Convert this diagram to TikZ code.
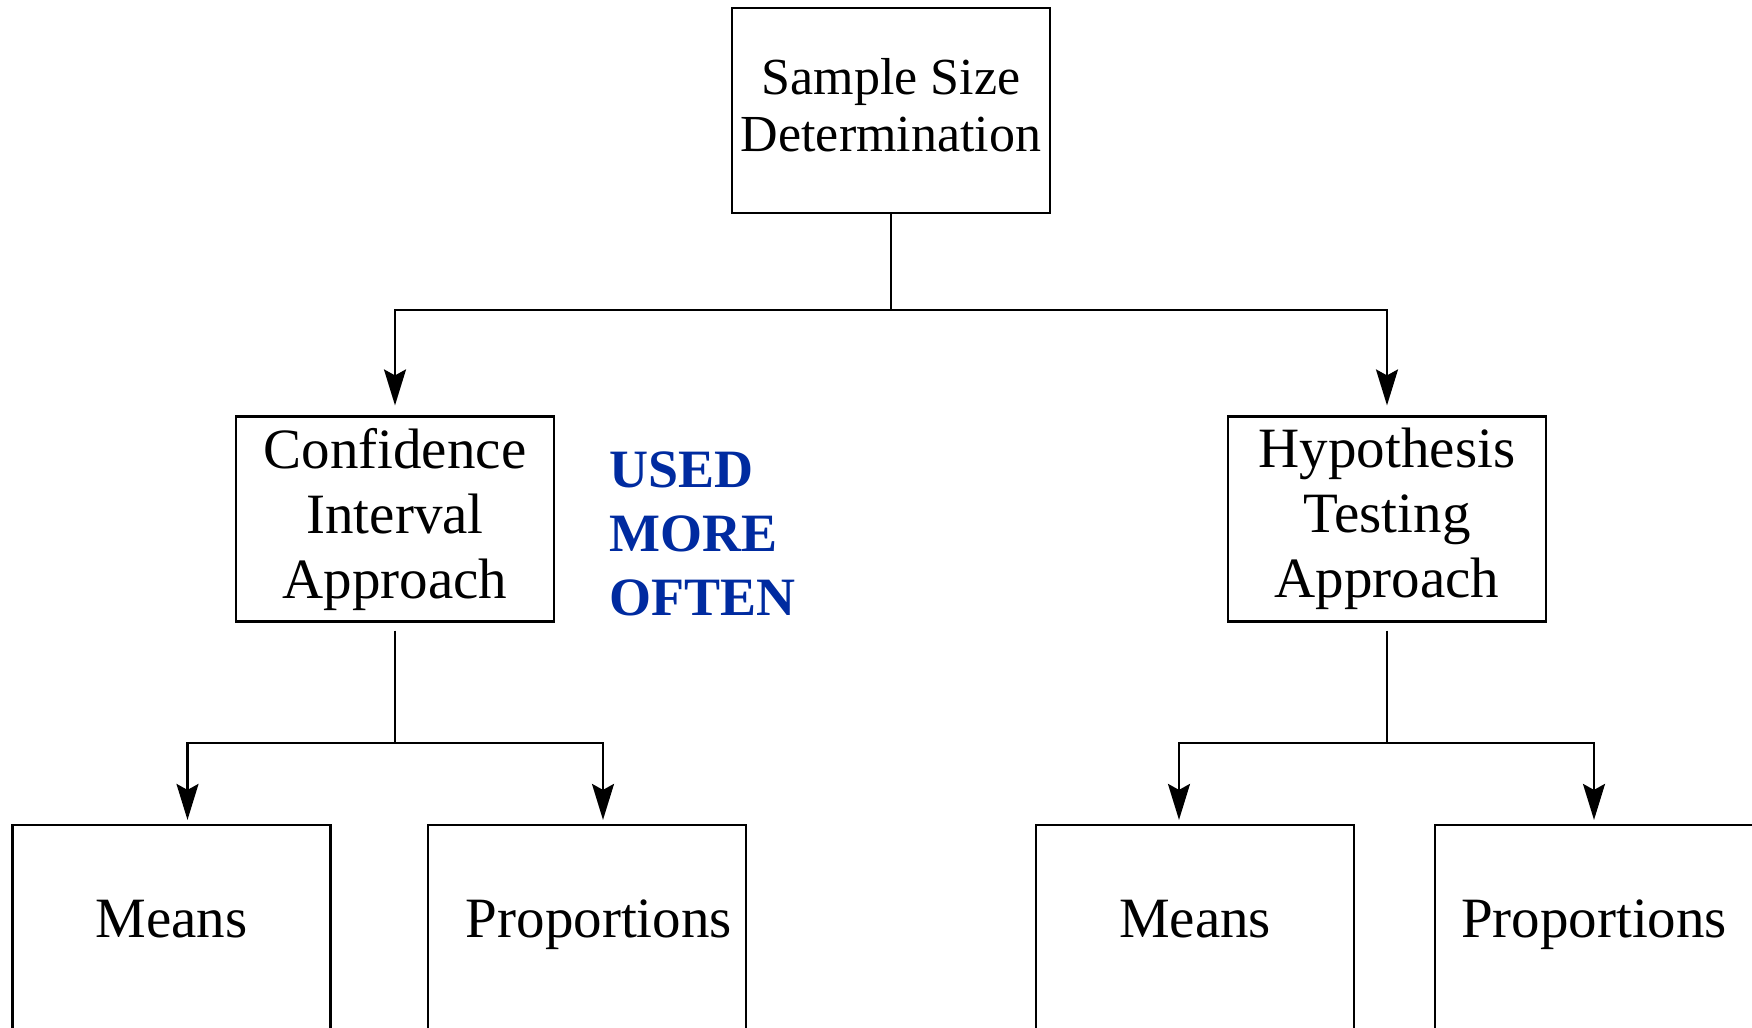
\documentclass[tikz,border=0pt]{standalone}
\usepackage{fontspec}
\setmainfont{Liberation Serif}
\usetikzlibrary{arrows.meta}
\definecolor{useblue}{RGB}{0,43,160}
\begin{document}
\begin{tikzpicture}[x=0.5pt,y=-0.5pt,
  box/.style={draw,line width=1.1pt,minimum width=159pt,minimum height=102.5pt,inner sep=0pt,align=center},
  midfont/.style={font=\fontsize{28.5}{32.5}\selectfont},
  botbox/.style={box,font=\fontsize{28.5}{32.5}\selectfont,text height=19pt,text depth=9.5pt},
  ln/.style={line width=1.1pt},
  arr/.style={line width=1.1pt,-{Stealth[length=18pt,width=11pt,inset=3pt]}}]
\clip (0,0) rectangle (1752,1028);
\node[box,font=\fontsize{26}{28.5}\selectfont,text depth=6pt] (top) at (891,110.5) {Sample Size\\Determination};
\node[box,midfont] (ci) at (395,519) {Confidence\\Interval\\Approach};
\node[box,midfont] (ht) at (1387,519) {Hypothesis\\Testing\\Approach};
\node[botbox] (m1) at (171.5,927.5) {Means};
\node[botbox] (p1) at (587,927.5) {\hspace*{12pt}Proportions};
\node[botbox] (m2) at (1195,927.5) {Means};
\node[botbox] (p2) at (1594,927.5) {Proportions};
\node[anchor=north west,align=left,inner sep=0pt,text=useblue,font=\fontsize{27}{32}\selectfont\bfseries] (note) at (609,451) {USED\\MORE\\OFTEN};
\coordinate (j0) at (891,310);
\coordinate (j1) at (395,743);
\coordinate (j2) at (1387,743);
\draw[ln] (top.south) -- (j0);
\draw[arr,shorten >=5pt] (j0) -| (ci.north);
\draw[arr,shorten >=5pt] (j0) -| (ht.north);
\draw[ln,shorten <=4pt] (ci.south) -- (j1);
\draw[ln,shorten <=4pt] (ht.south) -- (j2);
\draw[arr,shorten >=2pt] (j1) -| ([xshift=8pt]m1.north);
\draw[arr,shorten >=2pt] (j1) -| ([xshift=8pt]p1.north);
\draw[arr,shorten >=2pt] (j2) -| ([xshift=-8pt]m2.north);
\draw[arr,shorten >=2pt] (j2) -| (p2.north);
\end{tikzpicture}
\end{document}
